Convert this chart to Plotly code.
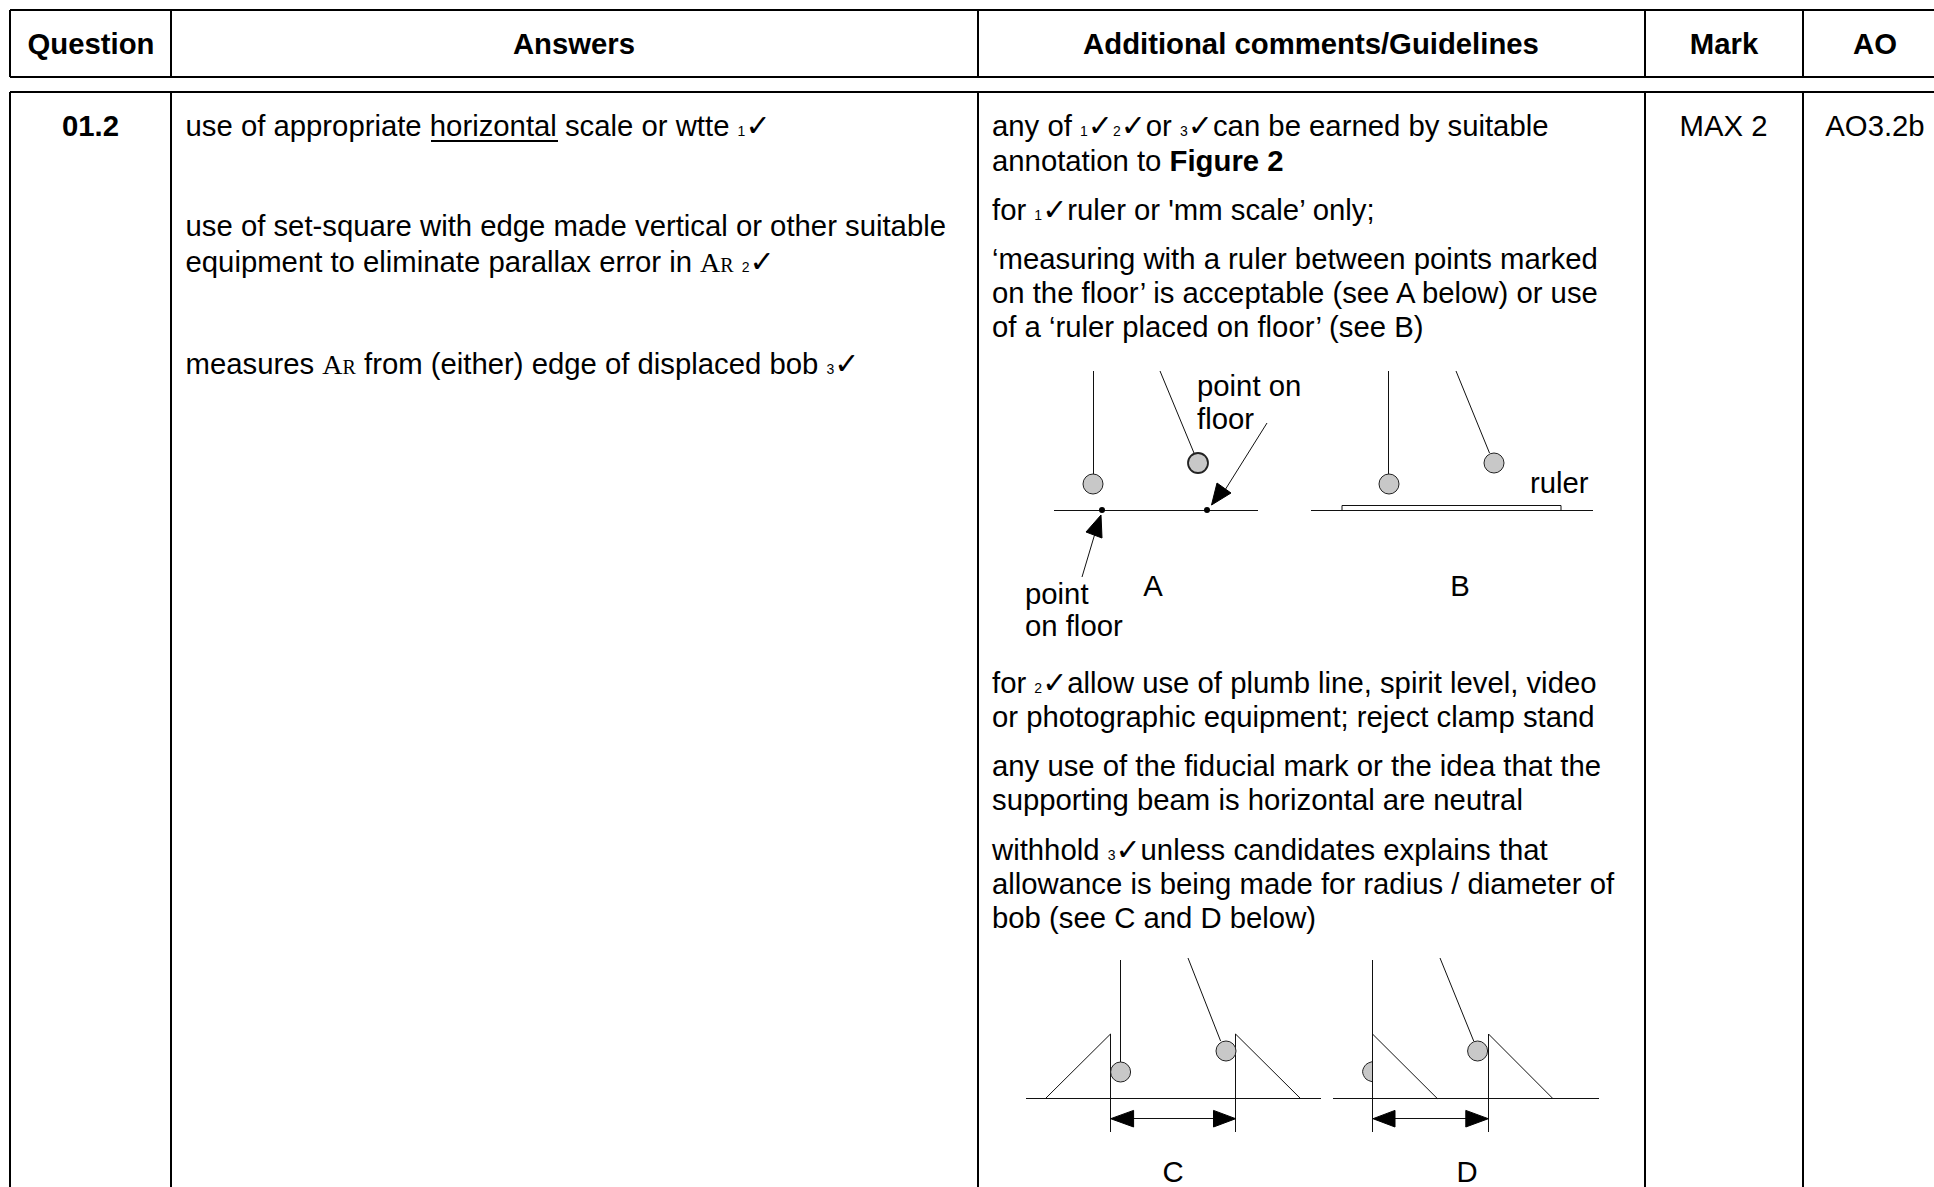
import plotly.graph_objects as go

BODY = "Liberation Sans"
FS = 29.3


def tick(n):
    # small mark number followed by the tick glyph
    return ('<span style="font-size:14px">%s</span>'
            '<span style="font-family:DejaVu Sans;font-size:30px">\u2713</span>' % n)


AR = ('<span style="font-family:Liberation Serif;font-size:28px">A</span>'
      '<span style="font-family:Liberation Serif;font-size:20px">R</span>')

# table rules
col_x = [10, 171, 978, 1645, 1803]
row_y = [10, 77, 92]
page_right = 1934
page_bottom = 1187

# header row
header_labels = ["Question", "Answers", "Additional comments/Guidelines", "Mark", "AO"]
header_x = [91, 574, 1311, 1724, 1875]
header_base = [55, 55, 55, 55, 55]

# single cells
question_label = ["<b>01.2</b>"]
question_x = [90.5]
question_base = [137]
cell_labels = ["MAX 2", "AO3.2b"]
cell_x = [1723.5, 1875]
cell_base = [137, 137]

# answers column
answer_lines = [
    "use of appropriate horizontal scale or wtte " + tick(1),
    "use of set-square with edge made vertical or other suitable",
    "equipment to eliminate parallax error in " + AR + " " + tick(2),
    "measures " + AR + " from (either) edge of displaced bob " + tick(3),
]
answer_x = [185.5, 185.5, 185.5, 185.5]
answer_base = [137, 237, 273, 375]
underline_x = [431, 558]
underline_y = [141, 141]

# comments column
comment_lines = [
    "any of " + tick(1) + tick(2) + "or " + tick(3) + "can be earned by suitable",
    "annotation to <b>Figure 2</b>",
    "for " + tick(1) + "ruler or 'mm scale\u2019 only;",
    "\u2018measuring with a ruler between points marked",
    "on the floor\u2019 is acceptable (see A below) or use",
    "of a \u2018ruler placed on floor\u2019 (see B)",
    "for " + tick(2) + "allow use of plumb line, spirit level, video",
    "or photographic equipment; reject clamp stand",
    "any use of the fiducial mark or the idea that the",
    "supporting beam is horizontal are neutral",
    "withhold " + tick(3) + "unless candidates explains that",
    "allowance is being made for radius / diameter of",
    "bob (see C and D below)",
]
comment_x = [992] * 13
comment_base = [137, 172, 221, 270, 304, 338, 694, 728, 777, 811, 861, 895, 929]

# labels inside the sketches
sketch_left_labels = ["point on", "floor", "ruler", "point", "on floor"]
sketch_left_x = [1197, 1197, 1530, 1025, 1025]
sketch_left_base = [397, 430, 494, 605, 637]
sketch_mid_labels = ["A", "B", "C", "D"]
sketch_mid_x = [1153, 1460, 1173, 1467]
sketch_mid_base = [597, 597, 1183, 1183]

# sketch line work, pen lifts marked with None
sketch_x = [
    1093.5, 1093.5, None, 1160, 1194, None, 1054, 1258, None,
    1082, 1096, None, 1267, 1225, None,
    1388.5, 1388.5, None, 1456, 1489.5, None, 1311, 1593, None,
    1342, 1342, 1561, 1561, None,
    1120.5, 1120.5, None, 1188, 1220.6, None, 1026, 1321, None,
    1045.5, 1110.5, 1110.5, None, 1235.5, 1235.5, 1300.5, None,
    1110.5, 1110.5, None, 1235.5, 1235.5, None, 1125, 1220, None,
    1372.5, 1372.5, None, 1440, 1473.7, None, 1333, 1599, None,
    1372.5, 1437.3, None, 1488.5, 1488.5, None, 1488.5, 1552.8, None,
    1488.5, 1488.5, None, 1390, 1470,
]
sketch_y = [
    371, 474, None, 371, 453, None, 510.5, 510.5, None,
    577, 530, None, 423, 490, None,
    371, 474, None, 371, 453, None, 510.5, 510.5, None,
    510.5, 505.5, 505.5, 510.5, None,
    960, 1062, None, 958, 1041, None, 1098.5, 1098.5, None,
    1098.5, 1034, 1098.5, None, 1098.5, 1034, 1098.5, None,
    1098.5, 1132, None, 1098.5, 1132, None, 1118.5, 1118.5, None,
    960, 1132, None, 958, 1041, None, 1098.5, 1098.5, None,
    1034, 1098.5, None, 1034, 1098.5, None, 1034, 1098.5, None,
    1098.5, 1132, None, 1118.5, 1118.5,
]

# solid arrow heads
head_x = [
    1101, 1086, 1102, 1101, None, 1211.5, 1217, 1231, 1211.5, None,
    1110.7, 1133.6, 1133.6, 1110.7, None, 1235.7, 1213.5, 1213.5, 1235.7, None,
    1373, 1395, 1395, 1373, None, 1488.3, 1465.8, 1465.8, 1488.3,
]
head_y = [
    515, 532, 538, 515, None, 505, 483, 493, 505, None,
    1118.7, 1110.4, 1127, 1118.7, None, 1118.7, 1110.4, 1127, 1118.7, None,
    1118.7, 1110.4, 1127, 1118.7, None, 1118.7, 1110.4, 1127, 1118.7,
]

# pendulum bobs and floor points
bob_x = [1093, 1198, 1389, 1494, 1120.6, 1226, 1477.6]
bob_y = [484, 463, 484, 463, 1072, 1051, 1051]
bob_edge = [1, 1.8, 1, 1, 1, 1, 1]
point_x = [1102, 1207]
point_y = [510, 510]
half_bob_x = [1372, 1366, 1362.6, 1366, 1372]
half_bob_y = [1061.7, 1064.5, 1071.7, 1079, 1081.7]


def baseline(values, size=FS):
    # plotly centres text 0.3 em above its baseline
    return [v - 0.3 * size for v in values]


def text_trace(labels, x, base, pos, size=FS):
    return go.Scatter(x=x, y=baseline(base, size), text=labels, mode="text",
                      textposition=pos, hoverinfo="skip", cliponaxis=False,
                      textfont=dict(family=BODY, size=size, color="#000000"))


# table rules
rule_x, rule_y = [], []
for y in row_y:
    rule_x += [col_x[0], page_right, None]
    rule_y += [y, y, None]
for x in col_x:
    rule_x += [x, x, None, x, x, None]
    rule_y += [row_y[0], row_y[1], None, row_y[2], page_bottom, None]

fig = go.Figure()
fig.add_trace(go.Scatter(x=rule_x, y=rule_y, mode="lines",
                         line=dict(color="#000000", width=2), hoverinfo="skip"))
fig.add_trace(go.Scatter(x=underline_x, y=underline_y, mode="lines",
                         line=dict(color="#000000", width=2), hoverinfo="skip"))
fig.add_trace(go.Scatter(x=half_bob_x, y=half_bob_y, mode="lines", fill="toself",
                         fillcolor="#c8c8c8", hoverinfo="skip",
                         line=dict(color="#222222", width=1, shape="spline")))
fig.add_trace(go.Scatter(x=sketch_x, y=sketch_y, mode="lines",
                         line=dict(color="#111111", width=1), hoverinfo="skip"))
fig.add_trace(go.Scatter(x=head_x, y=head_y, mode="lines", fill="toself",
                         fillcolor="#000000", hoverinfo="skip",
                         line=dict(color="#000000", width=1)))
fig.add_trace(go.Scatter(x=bob_x, y=bob_y, mode="markers", hoverinfo="skip",
                         marker=dict(size=20, color="#c8c8c8",
                                     line=dict(color="#222222", width=bob_edge))))
fig.add_trace(go.Scatter(x=point_x, y=point_y, mode="markers", hoverinfo="skip",
                         marker=dict(size=6, color="#000000")))

fig.add_trace(text_trace(["<b>%s</b>" % h for h in header_labels], header_x, header_base,
                         "middle center"))
fig.add_trace(text_trace(question_label, question_x, question_base, "middle center"))
fig.add_trace(text_trace(cell_labels, cell_x, cell_base, "middle center"))
fig.add_trace(text_trace(answer_lines, answer_x, answer_base, "middle right"))
fig.add_trace(text_trace(comment_lines, comment_x, comment_base, "middle right"))
fig.add_trace(text_trace(sketch_left_labels, sketch_left_x, sketch_left_base, "middle right"))
fig.add_trace(text_trace(sketch_mid_labels, sketch_mid_x, sketch_mid_base, "middle center"))

fig.update_layout(
    width=1934,
    height=1187,
    margin=dict(l=0, r=0, t=0, b=0),
    showlegend=False,
    paper_bgcolor="#ffffff",
    plot_bgcolor="#ffffff",
    xaxis=dict(range=[0, 1934], visible=False, fixedrange=True),
    yaxis=dict(range=[1187, 0], visible=False, fixedrange=True),
)

fig.write_html("out.html", config={"displayModeBar": False},
               post_script="document.body.style.margin='0';")
